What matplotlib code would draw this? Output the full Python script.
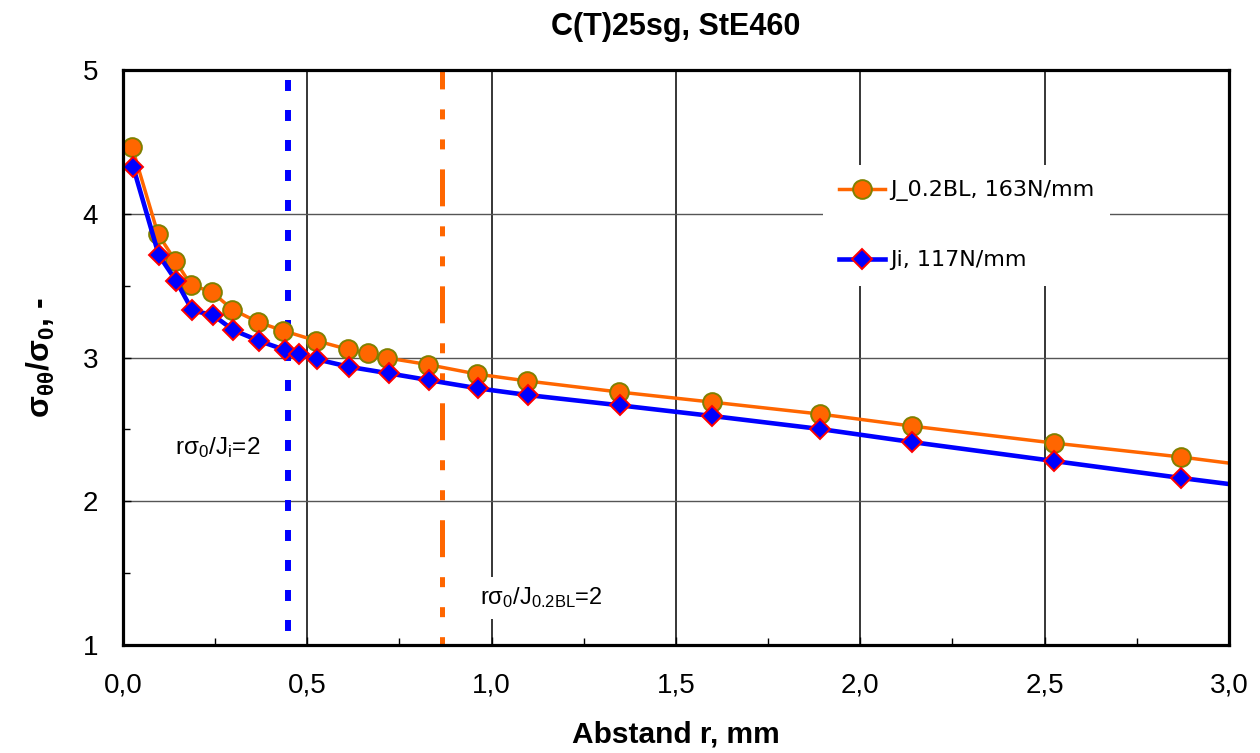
import numpy as np
import matplotlib
matplotlib.use("Agg")
import matplotlib.pyplot as plt
from matplotlib.ticker import MultipleLocator, FixedLocator, FixedFormatter

plt.rcParams['font.family'] = ['Liberation Sans', 'DejaVu Sans']
plt.rcParams['mathtext.fontset'] = 'custom'
plt.rcParams['mathtext.rm'] = 'Liberation Sans'
plt.rcParams['mathtext.it'] = 'Liberation Sans:italic'
plt.rcParams['mathtext.bf'] = 'Liberation Sans:bold'
plt.rcParams['mathtext.default'] = 'regular'
plt.rcParams['lines.scale_dashes'] = False

# J_0.2BL, 163 N/mm  (last point lies outside the axes, only the line shows)
r_bl = [0.025, 0.095, 0.142, 0.184, 0.241, 0.297, 0.366, 0.435, 0.524, 0.610,
        0.664, 0.717, 0.827, 0.960, 1.096, 1.346, 1.597, 1.890, 2.140, 2.525,
        2.870, 3.200]
s_bl = [4.462, 3.859, 3.673, 3.506, 3.456, 3.334, 3.247, 3.186, 3.117, 3.057,
        3.029, 2.997, 2.951, 2.885, 2.837, 2.760, 2.690, 2.607, 2.523, 2.405,
        2.308, 2.200]

# Ji, 117 N/mm
r_ji = [0.028, 0.097, 0.144, 0.188, 0.245, 0.299, 0.370, 0.440, 0.477, 0.525,
        0.612, 0.721, 0.829, 0.962, 1.098, 1.349, 1.599, 1.890, 2.140, 2.525,
        2.870, 3.200]
s_ji = [4.323, 3.713, 3.534, 3.328, 3.294, 3.191, 3.115, 3.052, 3.024, 2.988,
        2.936, 2.890, 2.843, 2.786, 2.739, 2.667, 2.593, 2.503, 2.412, 2.280,
        2.162, 2.055]

r_limit_ji = 0.447
r_limit_bl = 0.864

xticks = [0.0, 0.5, 1.0, 1.5, 2.0, 2.5, 3.0]
xtick_labels = ['0,0', '0,5', '1,0', '1,5', '2,0', '2,5', '3,0']
yticks = [1, 2, 3, 4, 5]

fig = plt.figure(figsize=(12.6, 7.53), dpi=100)
ax = fig.add_axes([0.0976, 0.1434, 0.8778, 0.7636])

ax.set_xlim(0, 3.0)
ax.set_ylim(1, 5)

# grid
for xv in xticks[1:-1]:
    ax.axvline(xv, color='black', lw=1.1, zorder=1)
for yv in yticks[1:-1]:
    ax.axhline(yv, color='#555555', lw=1.0, zorder=1)

# vertical limit lines
ax.plot([r_limit_ji, r_limit_ji], [5, 1], color='#0000FF', lw=4.3,
        linestyle=(14.4, (7.9, 13.7)), zorder=2)
ax.plot([r_limit_bl, r_limit_bl], [5, 1], color='#FF6600', lw=3.6,
        linestyle=(13.0, (26.6, 14.4, 7.2, 14.4, 7.2, 14.4)), zorder=2)

ax.plot(r_bl, s_bl, color='#FF6600', lw=2.5, marker='o', ms=13.5,
        mfc='#FF6600', mec='#808000', mew=1.4, label='J_0.2BL, 163N/mm', zorder=3)
ax.plot(r_ji, s_ji, color='#0000FF', lw=3.3, marker='D', ms=9.8,
        mfc='#0000FF', mec='#FF0000', mew=1.4, label='Ji, 117N/mm', zorder=4)

leg = ax.legend(loc='upper left', bbox_to_anchor=(0.633, 0.835), borderaxespad=0,
                frameon=True, fancybox=False, edgecolor='none', facecolor='white',
                framealpha=1, prop={'family': 'DejaVu Sans', 'size': 16},
                handlelength=2.1, handletextpad=0.2, labelspacing=2.2,
                borderpad=0.7)
leg.set_zorder(5)

ax.text(0.141, 2.377, r'r$\sigma_0$/J$_i$=2', fontsize=17.5, ha='left', va='center',
        zorder=6)
ax.text(0.968, 1.327, r'r$\sigma_0$/J$_{0.2BL}$=2', fontsize=17, ha='left', va='center',
        zorder=6, bbox=dict(facecolor='white', edgecolor='none', pad=6))

ax.xaxis.set_major_locator(FixedLocator(xticks))
ax.xaxis.set_major_formatter(FixedFormatter(xtick_labels))
ax.xaxis.set_minor_locator(MultipleLocator(0.25))
ax.yaxis.set_major_locator(FixedLocator(yticks))
ax.yaxis.set_minor_locator(MultipleLocator(0.5))
ax.tick_params(axis='both', which='major', direction='in', length=6, width=1,
               labelsize=20)
ax.tick_params(axis='both', which='minor', direction='in', length=5, width=1)
ax.tick_params(axis='x', which='major', pad=20)
ax.tick_params(axis='y', which='major', pad=18)

for sp in ax.spines.values():
    sp.set_linewidth(2.3)
    sp.set_zorder(7)

ax.set_title('C(T)25sg, StE460', fontsize=22, fontweight='bold', pad=25)
ax.set_xlabel('Abstand r, mm', fontsize=21.5, fontweight='bold')
ax.set_ylabel(r'$\mathbf{\sigma_{\theta\theta}/\sigma_0}$, -', fontsize=23,
              fontweight='bold')
ax.xaxis.set_label_coords(0.5, -0.132)
ax.yaxis.set_label_coords(-0.06, 0.5)
ax.xaxis.label.set_va('top')

fig.savefig('out.png', dpi=100)
